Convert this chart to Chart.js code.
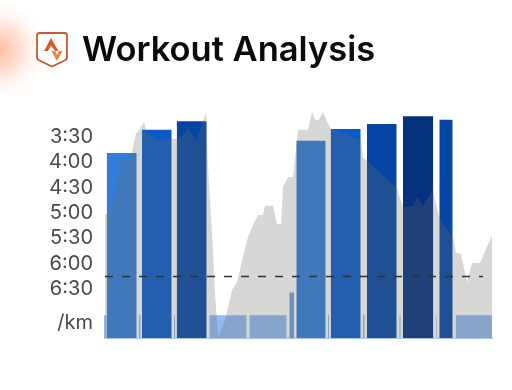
<!DOCTYPE html>
<html>
<head>
<meta charset="utf-8">
<title>Workout Analysis</title>
<script src="https://cdn.jsdelivr.net/npm/chart.js@4"></script>
<style>
  html, body { margin: 0; padding: 0; background: #fff; overflow: hidden; }
  #page { position: relative; width: 512px; height: 390px; overflow: hidden; }
  #glow {
    position: absolute; left: -48px; top: 0px; width: 96px; height: 100px; border-radius: 50%;
    background: radial-gradient(closest-side, rgba(255,176,140,.8) 0%, rgba(255,192,165,.6) 35%, rgba(255,225,210,.25) 70%, rgba(255,255,255,0) 100%);
  }
  #logo { position: absolute; left: 36px; top: 31px; filter: blur(0.3px); }
  #title {
    position: absolute; left: 82px; top: 28px; line-height: 44px;
    font: 600 34.5px Inter, sans-serif; color: #0b0b0b; white-space: nowrap; filter: blur(0.3px);
  }
  #chart { position: absolute; left: 0; top: 0; filter: blur(0.4px); }
</style>
</head>
<body>
<div id="page">
  <div id="glow"></div>
  <svg id="logo" width="32" height="38" viewBox="0 0 32 38">
    <path d="M3.5 2 H28.5 Q31 2 31 4.5 V26 Q31 28.5 28.5 29.5 L16 35.5 L3.5 29.5 Q1 28.5 1 26 V4.5 Q1 2 3.5 2 Z" fill="#fff" stroke="#c9582a" stroke-width="1.8"/>
    <path d="M15 7 L8 20 H12 L15 14.5 L19 20 H22.5 Z" fill="#dd5a26"/>
    <path d="M15.5 20 H19 L21 24 L23 20 H26.5 L21 30 Z" fill="#e58440"/>
  </svg>
  <div id="title">Workout Analysis</div>
  <canvas id="chart" width="512" height="390"></canvas>
</div>
<script>
// pace in seconds per km, x is position along the workout
const paceTicks = [210, 240, 270, 300, 330, 360, 390, 430];
const paceLabels = ['3:30', '4:00', '4:30', '5:00', '5:30', '6:00', '6:30', '/km'];
const targetPace = 377;
const targetStart = 1;
const targetEnd = 379;

const intervalStart = [0, 2.7, 35, 38, 70, 72.7, 105.3, 145.3, 185.3, 192.3, 224, 226.7, 259, 263, 295.3, 299, 331.7, 335.3, 351.7];
const intervalEnd = [2.7, 32.7, 36.7, 67.7, 71, 102.7, 142.7, 182.7, 190, 221.7, 225, 256.7, 260.7, 292.7, 296.7, 329.3, 332.7, 348.7, 388];
const intervalPace = [423, 230.5, 423, 203, 423, 193, 423, 423, 396, 216, 423, 202, 423, 196, 423, 187, 423, 191, 423];
const intervalColors = ['#90baf1', '#327dd7', '#90baf1', '#0a5ac8', '#90baf1', '#0546a5', '#90baf1', '#90baf1',
  '#6f9fe0', '#327dd7', '#90baf1', '#0a5ac8', '#90baf1', '#0546a5', '#90baf1', '#05327d', '#90baf1', '#0546a5', '#90baf1'];

const effortX = [1, 6, 12, 18, 26, 32, 33, 40, 43, 55, 68, 76, 84, 92, 102, 104, 108, 111, 114, 121, 128, 133, 139, 144, 149, 154, 159, 161, 169, 173, 177, 179, 184, 189, 194, 204, 208, 211, 215, 219, 226, 257, 259, 264, 279, 293, 299, 309, 313, 319, 329, 331, 336, 349, 352, 357, 363, 368, 376, 388];
const effortPace = [304, 300, 274, 239, 239, 207, 207, 194, 207, 215, 214, 213, 201, 215, 183, 247, 325, 396, 449, 429, 393, 384, 354, 330, 316, 304, 304, 293, 293, 315, 315, 271, 259, 259, 203, 203, 182, 191, 191, 182, 201, 215, 236, 241, 257, 272, 295, 293, 283, 293, 274, 286, 310, 330, 349, 350, 384, 361, 361, 328];

const datasets = [];

// Intervals
intervalStart.forEach(function (start, i) {
  datasets.push({
    data: [{ x: start, y: intervalPace[i] }, { x: intervalEnd[i], y: intervalPace[i] }],
    backgroundColor: intervalColors[i],
    borderWidth: 0,
    pointRadius: 0,
    fill: { value: 450 },
    order: 3
  });
});

// Effort area
datasets.push({
  data: effortX.map(function (x, i) { return { x: x, y: effortPace[i] }; }),
  backgroundColor: 'rgba(107, 107, 105, 0.27)',
  borderWidth: 0,
  pointRadius: 0,
  fill: { value: 450 },
  order: 2
});

// Target pace
datasets.push({
  data: [{ x: targetStart, y: targetPace }, { x: targetEnd, y: targetPace }],
  borderColor: '#2f3236',
  borderWidth: 1.6,
  borderDash: [8, 9],
  pointRadius: 0,
  fill: false,
  order: 1
});

new Chart(document.getElementById('chart').getContext('2d'), {
  type: 'line',
  data: { datasets: datasets },
  options: {
    responsive: false,
    animation: false,
    layout: { padding: { top: 110.4, right: 20, bottom: 44, left: 0 } },
    plugins: { legend: { display: false }, tooltip: { enabled: false } },
    scales: {
      x: {
        type: 'linear',
        min: 0,
        max: 388,
        grid: { display: false },
        border: { display: true, color: '#a9c4e6', width: 1 },
        ticks: { display: false }
      },
      y: {
        type: 'linear',
        reverse: true,
        min: 180,
        max: 450,
        afterBuildTicks: function (axis) {
          axis.ticks = paceTicks.map(function (v) { return { value: v }; });
        },
        afterFit: function (axis) { axis.width = 104; },
        grid: { display: false, drawTicks: false },
        border: { display: false },
        ticks: {
          padding: 11,
          autoSkip: false,
          labelOffset: 1.5,
          color: '#4a4a4a',
          font: { family: 'Inter', size: 20, weight: 400 },
          callback: function (value) { return paceLabels[paceTicks.indexOf(value)]; }
        }
      }
    }
  }
});
</script>
</body>
</html>
